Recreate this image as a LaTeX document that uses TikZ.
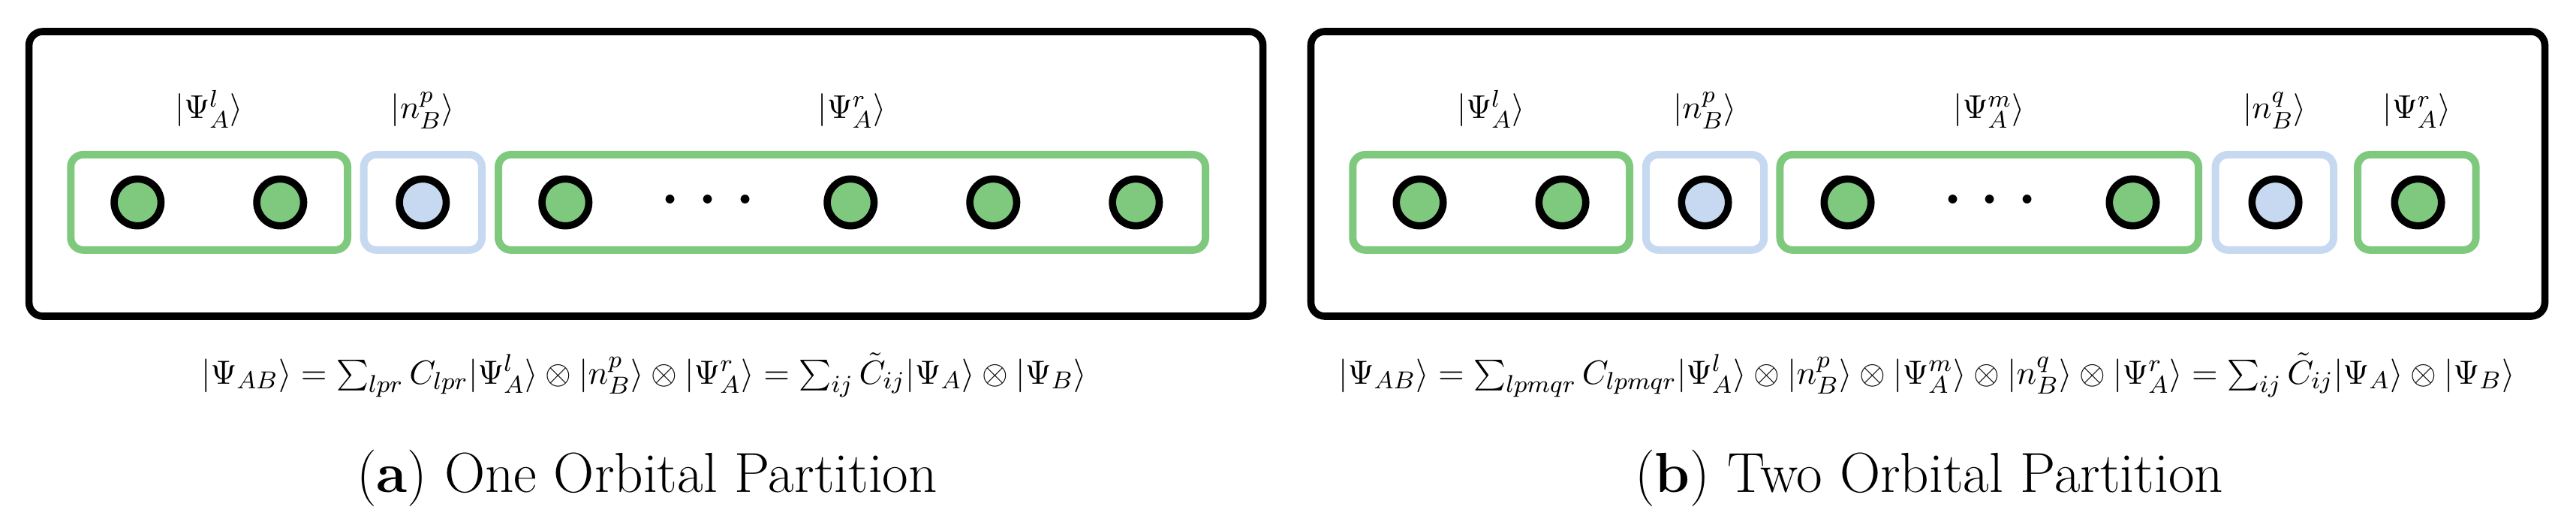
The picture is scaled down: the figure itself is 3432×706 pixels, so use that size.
\documentclass[tikz,border=0pt]{standalone}
\definecolor{orbgreen}{RGB}{127,201,127}
\definecolor{orbblue}{RGB}{198,217,240}
\tikzset{
  orb/.style={circle, draw=black, line width=2.4pt, minimum size=15.6pt, inner sep=0pt},
  gbox/.style={rectangle, draw=orbgreen, line width=2.5pt, rounded corners=4.1pt, minimum height=31.7pt, inner sep=0pt},
  bbox/.style={rectangle, draw=orbblue, line width=2.5pt, rounded corners=4.1pt, minimum height=31.7pt, minimum width=39.35pt, inner sep=0pt},
  panel/.style={rectangle, draw=black, line width=2.4pt, rounded corners=4.6pt, minimum width=411pt, minimum height=94.75pt, inner sep=0pt},
  lab/.style={font=\fontsize{10.95}{13}\selectfont, anchor=base, inner sep=0pt},
  dotsn/.style={font=\fontsize{10}{12}\selectfont, anchor=base, inner sep=0pt},
  eqn/.style={font=\fontsize{10.95}{13}\selectfont, anchor=base, inner sep=0pt},
  capn/.style={font=\fontsize{18.8}{22}\selectfont, anchor=base, inner sep=0pt}
}
\begin{document}
\begin{tikzpicture}[x=0.25pt,y=-0.25pt]
\useasboundingbox (0,0) rectangle (3432,706);
% ---------------- left panel ----------------
\node[panel] (PA) at (860.6,231.5) {};
\node[gbox, minimum width=92.2pt] (A1) at (278.65,269.4) {};
\node[bbox] (A2) at (563.3,269.4) {};
\node[gbox, minimum width=235.5pt] (A3) at (1135,269.4) {};
\foreach \x/\c [count=\i] in {183.3/orbgreen,373.3/orbgreen,563.3/orbblue,753.3/orbgreen,1133.3/orbgreen,1323.3/orbgreen,1513.3/orbgreen}
  \node[orb, fill=\c] (a\i) at (\x,269.5) {};
\node[dotsn] (ad) at (943.3,293.7) {\scalebox{2.8}{$\cdots$}};
\node[lab] (la1) at (278.5,158) {$|\Psi^l_A\rangle$};
\node[lab] (la2) at (563.3,158) {$|n^p_B\rangle$};
\node[lab] (la3) at (1135,158) {$|\Psi^r_A\rangle$};
\node[eqn] (ea) at (858,511) {\scalebox{1.02}{$|\Psi_{AB}\rangle = \sum_{lpr} C_{lpr}|\Psi^l_A\rangle \otimes |n^p_B\rangle \otimes |\Psi^r_A\rangle = \sum_{ij}\tilde{C}_{ij}|\Psi_A\rangle\otimes|\Psi_B\rangle$}};
\node[capn] (ca) at (862,655) {(\textbf{a}) One Orbital Partition};
% ---------------- right panel ----------------
\node[panel] (PB) at (2568.5,231.5) {};
\node[gbox, minimum width=92.2pt] (B1) at (1986.65,269.4) {};
\node[bbox] (B2) at (2271.5,269.4) {};
\node[gbox, minimum width=139.4pt] (B3) at (2650.25,269.4) {};
\node[bbox] (B4) at (3030.3,269.4) {};
\node[gbox, minimum width=39.4pt] (B5) at (3219.8,269.4) {};
\foreach \x/\c [count=\i] in {1891.5/orbgreen,2081.5/orbgreen,2271.5/orbblue,2461.5/orbgreen,2841.5/orbgreen,3031.5/orbblue,3221.5/orbgreen}
  \node[orb, fill=\c] (b\i) at (\x,269.5) {};
\node[dotsn] (bd) at (2651.5,293.7) {\scalebox{2.8}{$\cdots$}};
\node[lab] (lb1) at (1986.5,158) {$|\Psi^l_A\rangle$};
\node[lab] (lb2) at (2271.5,158) {$|n^p_B\rangle$};
\node[lab] (lb3) at (2650,158) {$|\Psi^m_A\rangle$};
\node[lab] (lb4) at (3030.5,158) {$|n^q_B\rangle$};
\node[lab] (lb5) at (3220,158) {$|\Psi^r_A\rangle$};
\node[eqn] (eb) at (2567,511) {\scalebox{1.02}{$|\Psi_{AB}\rangle = \sum_{lpmqr} C_{lpmqr}|\Psi^l_A\rangle \otimes |n^p_B\rangle \otimes |\Psi^m_A\rangle \otimes |n^q_B\rangle \otimes |\Psi^r_A\rangle = \sum_{ij}\tilde{C}_{ij}|\Psi_A\rangle\otimes|\Psi_B\rangle$}};
\node[capn] (cb) at (2570,655) {(\textbf{b}) Two Orbital Partition};
\end{tikzpicture}
\end{document}
